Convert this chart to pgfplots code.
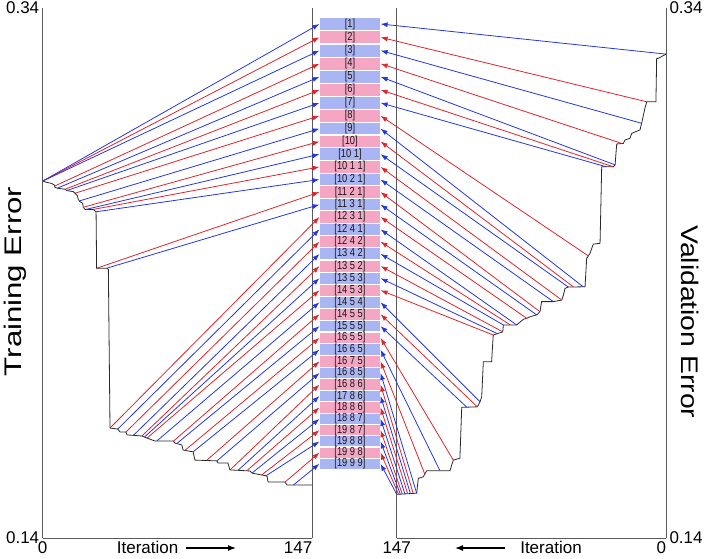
\documentclass[border=0pt]{standalone}
\usepackage{fontspec}
\setmainfont{Liberation Sans}
\usepackage{graphicx}
\usepackage{pgfplots}
\pgfplotsset{compat=1.18}
\usetikzlibrary{arrows.meta}

\definecolor{lnblue}{HTML}{2438E0}
\definecolor{lnred}{HTML}{E0242C}
\definecolor{boxblue}{HTML}{AAB5F3}
\definecolor{boxpink}{HTML}{F4A6C3}
\definecolor{errcol}{HTML}{2A2A2A}
\definecolor{framecol}{HTML}{5A5A5A}

\newcommand{\tickfont}{\fontsize{17}{19}\selectfont}
\newcommand{\labfont}{\fontsize{24}{28}\selectfont}
\newcommand{\boxfont}{\fontsize{9.3}{10}\selectfont}

% label box: colour, lower, upper, centre, text
\newcommand{\bx}[5]{%
  \addplot[fill=#1, draw=none, forget plot] coordinates {(151.2,#2) (183.9,#2) (183.9,#3) (151.2,#3)} --cycle;
  \node[font=\boxfont, text=black!90, inner sep=0pt] at (axis cs:167.55,#4) {\scalebox{1}[1.25]{#5}};}
% arrows: colour, iteration, error, box centre
\newcommand{\la}[4]{\addplot[#1, line width=0.8pt, -{Latex[length=7pt,width=5pt]}, forget plot] coordinates {(#2,#3) (150.9,#4)};}
\newcommand{\ra}[4]{\addplot[#1, line width=0.8pt, -{Latex[length=7pt,width=5pt]}, forget plot] coordinates {(#2,#3) (155.8,#4)};}

\tikzset{itarrow/.style={black, line width=1.2pt, -{Latex[length=8pt,width=6pt]}}}
\pgfplotsset{
  panel/.style={
    scale only axis, height=530pt,
    xmin=0, xmax=147, ymin=0.14, ymax=0.34,
    axis x line*=bottom, axis y line*=box,
    xtick={0,147}, ytick={0.14,0.34},
    major tick length=0pt,
    tick label style={font=\tickfont},
    /pgf/number format/assume math mode=true,
    axis line style={framecol, line width=0.8pt},
    clip=false,
  },
  errline/.style={errcol, line width=0.8pt, forget plot},
}

\begin{document}
\begin{tikzpicture}
\begin{axis}[panel, width=269.6pt,
  xticklabels={0,\llap{147}},
  xlabel={Iteration},
  xlabel style={at={(axis description cs:0.389,0)}, anchor=north, font=\tickfont},
  ylabel={\scalebox{1.3}[1]{Training Error}},
  ylabel style={at={(axis description cs:-0.103,0.484)}, anchor=center, font=\labfont},
]
\addplot[errline] coordinates {
(0,0.2747) (2.2,0.2742) (4.9,0.2738) (6.3,0.2732) (6.7,0.2723) (8.0,0.2720)
(12.2,0.2716) (13.1,0.2711) (16.7,0.2707) (17.6,0.2701) (18.9,0.2692) (19.4,0.2678)
(20.3,0.2669) (21.8,0.2663) (22.1,0.2648) (23.1,0.2640) (27.6,0.2640) (29.1,0.2631)
(29.4,0.2418) (34.9,0.2418) (35.8,0.2414) (36.7,0.1815) (40.9,0.1811) (42.2,0.1800)
(45.4,0.1800) (46.0,0.1789) (54.1,0.1785) (56.9,0.1777) (61.2,0.1766) (71.1,0.1766)
(72.2,0.1758) (75.9,0.1751) (76.5,0.1732) (82.0,0.1725) (83.0,0.1694) (95.0,0.1691)
(95.6,0.1683) (101.0,0.1683) (102.1,0.1657) (113.0,0.1653) (114.1,0.1645) (122.3,0.1634)
(122.9,0.1611) (132.1,0.1611) (133.2,0.1600) (147,0.1600)};

\bx{boxblue}{.33168}{.33624}{.33396}{[1]}
\bx{boxpink}{.32667}{.33121}{.32894}{[2]}
\bx{boxblue}{.32169}{.32621}{.32395}{[3]}
\bx{boxpink}{.31673}{.32123}{.31898}{[4]}
\bx{boxblue}{.31180}{.31626}{.31403}{[5]}
\bx{boxpink}{.30688}{.31132}{.30910}{[6]}
\bx{boxblue}{.30199}{.30641}{.30420}{[7]}
\bx{boxpink}{.29712}{.30152}{.29932}{[8]}
\bx{boxblue}{.29228}{.29666}{.29447}{[9]}
\bx{boxpink}{.28745}{.29181}{.28963}{[10]}
\bx{boxblue}{.28266}{.28700}{.28483}{[10 1]}
\bx{boxpink}{.27789}{.28219}{.28004}{[10 1 1]}
\bx{boxblue}{.27314}{.27742}{.27528}{[10 2 1]}
\bx{boxpink}{.26841}{.27267}{.27054}{[11 2 1]}
\bx{boxblue}{.26371}{.26795}{.26583}{[11 3 1]}
\bx{boxpink}{.25903}{.26325}{.26114}{[12 3 1]}
\bx{boxblue}{.25437}{.25857}{.25647}{[12 4 1]}
\bx{boxpink}{.24973}{.25391}{.25182}{[12 4 2]}
\bx{boxblue}{.24513}{.24927}{.24720}{[13 4 2]}
\bx{boxpink}{.24054}{.24466}{.24260}{[13 5 2]}
\bx{boxblue}{.23598}{.24008}{.23803}{[13 5 3]}
\bx{boxpink}{.23144}{.23552}{.23348}{[14 5 3]}
\bx{boxblue}{.22692}{.23098}{.22895}{[14 5 4]}
\bx{boxpink}{.22243}{.22647}{.22445}{[14 5 5]}
\bx{boxblue}{.21796}{.22198}{.21997}{[15 5 5]}
\bx{boxpink}{.21352}{.21750}{.21551}{[16 5 5]}
\bx{boxblue}{.20910}{.21306}{.21108}{[16 6 5]}
\bx{boxpink}{.20469}{.20863}{.20666}{[16 7 5]}
\bx{boxblue}{.20032}{.20424}{.20228}{[16 8 5]}
\bx{boxpink}{.19596}{.19986}{.19791}{[16 8 6]}
\bx{boxblue}{.19163}{.19551}{.19357}{[17 8 6]}
\bx{boxpink}{.18733}{.19119}{.18926}{[18 8 6]}
\bx{boxblue}{.18305}{.18687}{.18496}{[18 8 7]}
\bx{boxpink}{.17879}{.18259}{.18069}{[19 8 7]}
\bx{boxblue}{.17456}{.17834}{.17645}{[19 8 8]}
\bx{boxpink}{.17034}{.17410}{.17222}{[19 9 8]}
\bx{boxblue}{.16615}{.16989}{.16802}{[19 9 9]}

\la{lnblue}{0}{0.2747}{.33396}
\la{lnred}{0}{0.2747}{.32894}
\la{lnblue}{0}{0.2747}{.32395}
\la{lnred}{6.5}{0.2728}{.31898}
\la{lnblue}{8.0}{0.2720}{.31403}
\la{lnred}{12.2}{0.2716}{.30910}
\la{lnblue}{13.1}{0.2711}{.30420}
\la{lnred}{17.6}{0.2701}{.29932}
\la{lnblue}{20.0}{0.2672}{.29447}
\la{lnred}{22.1}{0.2648}{.28963}
\la{lnblue}{23.6}{0.2640}{.28483}
\la{lnred}{27.6}{0.2640}{.28004}
\la{lnblue}{29.1}{0.2631}{.27528}
\la{lnred}{29.4}{0.2418}{.27054}
\la{lnblue}{34.9}{0.2418}{.26583}
\la{lnred}{36.7}{0.1815}{.26114}
\la{lnblue}{40.9}{0.1811}{.25647}
\la{lnred}{45.4}{0.1800}{.25182}
\la{lnblue}{49.4}{0.1787}{.24720}
\la{lnred}{54.1}{0.1785}{.24260}
\la{lnblue}{55.5}{0.1781}{.23803}
\la{lnred}{56.9}{0.1777}{.23348}
\la{lnblue}{62.2}{0.1766}{.22895}
\la{lnred}{71.2}{0.1765}{.22445}
\la{lnblue}{73.0}{0.1756}{.21997}
\la{lnred}{77.6}{0.1731}{.21551}
\la{lnblue}{82.0}{0.1725}{.21108}
\la{lnred}{89.4}{0.1693}{.20666}
\la{lnblue}{95.0}{0.1691}{.20228}
\la{lnred}{102.2}{0.1657}{.19791}
\la{lnblue}{106.6}{0.1656}{.19357}
\la{lnred}{111.3}{0.1654}{.18926}
\la{lnblue}{114.1}{0.1645}{.18496}
\la{lnred}{119.4}{0.1638}{.18069}
\la{lnblue}{121.8}{0.1635}{.17645}
\la{lnred}{132.1}{0.1611}{.17222}
\la{lnblue}{136.7}{0.1600}{.16802}

\draw[itarrow] (axis description cs:0.532,-0.0189) -- (axis description cs:0.717,-0.0189);
\end{axis}

\begin{axis}[panel, width=269.3pt, at={(354pt,0pt)}, anchor=south west,
  x dir=reverse, yticklabel pos=right,
  xticklabels={\llap{0},147},
  xlabel={Iteration},
  xlabel style={at={(axis description cs:0.573,0)}, anchor=north, font=\tickfont},
  ylabel={\scalebox{1.18}[1]{Validation Error}},
  ylabel style={at={(axis description cs:1.089,0.408)}, anchor=center, rotate=180, font=\labfont},
]
\addplot[errline] coordinates {
(0,0.3226) (4.2,0.3210) (5.1,0.3210) (5.5,0.3046) (10.5,0.3046) (11.5,0.3022)
(13.3,0.2965) (14.2,0.2940) (18.7,0.2927) (19.7,0.2908) (22.4,0.2902) (23.3,0.2889)
(26.9,0.2887) (27.8,0.2808) (28.8,0.2801) (35.1,0.2801) (36.0,0.2512) (39.7,0.2509)
(41.5,0.2474) (43.3,0.2455) (44.2,0.2348) (53.4,0.2347) (55.1,0.2342) (56.0,0.2317)
(56.9,0.2298) (61.5,0.2292) (67.9,0.2292) (68.8,0.2254) (70.6,0.2242) (74.2,0.2235)
(76.0,0.2229) (77.9,0.2225) (81.5,0.2204) (88.8,0.2204) (89.1,0.2178) (94.3,0.2166)
(95.2,0.2065) (99.7,0.2065) (100.6,0.1933) (101.5,0.1914) (103.0,0.1895) (111.5,0.1893)
(112.5,0.1701) (116.1,0.1694) (117.0,0.1675) (117.9,0.1654) (130.6,0.1654) (132.5,0.1631)
(135.2,0.1625) (136.1,0.1569) (146.1,0.1565) (147,0.1565)};

\ra{lnblue}{0}{0.3226}{.33396}
\ra{lnred}{10.5}{0.3046}{.32894}
\ra{lnblue}{13.3}{0.2965}{.32395}
\ra{lnred}{24.2}{0.2889}{.31898}
\ra{lnblue}{27.8}{0.2808}{.31403}
\ra{lnred}{28.8}{0.2801}{.30910}
\ra{lnblue}{32.7}{0.2801}{.30420}
\ra{lnred}{42.5}{0.2465}{.29932}
\ra{lnblue}{45.2}{0.2348}{.29447}
\ra{lnred}{50.6}{0.2348}{.28963}
\ra{lnblue}{53.3}{0.2347}{.28483}
\ra{lnred}{56.9}{0.2298}{.28004}
\ra{lnblue}{61.5}{0.2292}{.27528}
\ra{lnred}{68.8}{0.2254}{.27054}
\ra{lnblue}{70.6}{0.2242}{.26583}
\ra{lnred}{76.0}{0.2229}{.26114}
\ra{lnblue}{81.5}{0.2204}{.25647}
\ra{lnred}{85.0}{0.2204}{.25182}
\ra{lnblue}{88.8}{0.2204}{.24720}
\ra{lnred}{89.1}{0.2178}{.24260}
\ra{lnblue}{92.0}{0.2171}{.23803}
\ra{lnred}{94.3}{0.2166}{.23348}
\ra{lnblue}{101.5}{0.1914}{.22895}
\ra{lnred}{103.0}{0.1895}{.22445}
\ra{lnblue}{108.8}{0.1894}{.21997}
\ra{lnred}{116.1}{0.1694}{.21551}
\ra{lnblue}{123.4}{0.1654}{.21108}
\ra{lnred}{131.6}{0.1640}{.20666}
\ra{lnblue}{136.1}{0.1569}{.20228}
\ra{lnred}{138.0}{0.1568}{.19791}
\ra{lnblue}{139.5}{0.1567}{.19357}
\ra{lnred}{141.0}{0.1567}{.18926}
\ra{lnblue}{142.5}{0.1566}{.18496}
\ra{lnred}{144.0}{0.1566}{.18069}
\ra{lnblue}{145.0}{0.1565}{.17645}
\ra{lnred}{146.0}{0.1565}{.17222}
\ra{lnblue}{147.0}{0.1565}{.16802}

\draw[itarrow] (axis description cs:0.402,-0.0189) -- (axis description cs:0.2165,-0.0189);
\end{axis}
\pgfresetboundingbox
\path (-42.7pt,-20pt) rectangle (666.3pt,538pt);
\end{tikzpicture}
\end{document}
